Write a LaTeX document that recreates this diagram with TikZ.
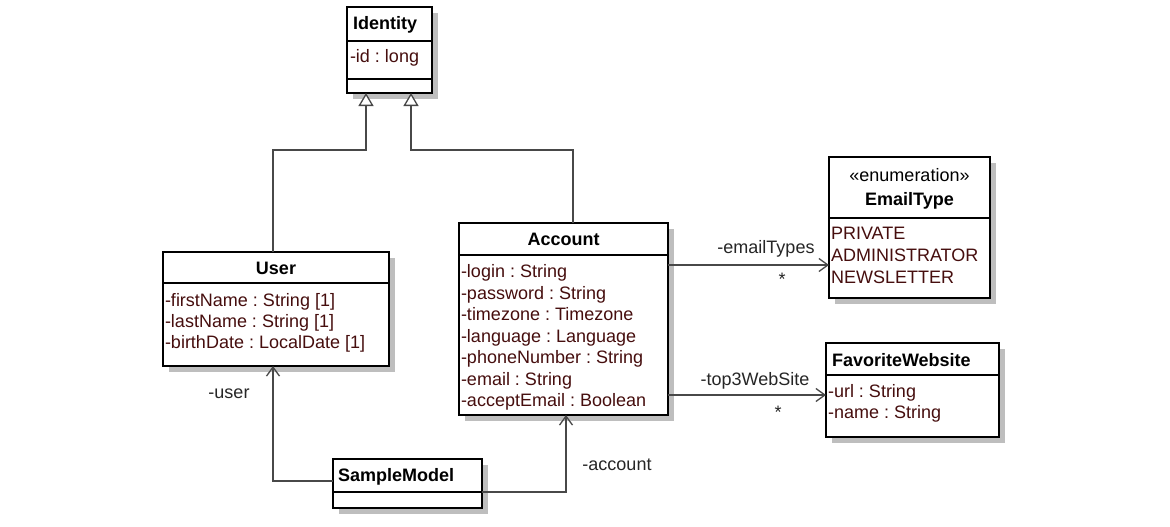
\documentclass[tikz,border=0pt]{standalone}
\usepackage{fontspec}
\setmainfont{Liberation Sans}
\frenchspacing
\usetikzlibrary{arrows.meta,shadows}
\definecolor{attr}{RGB}{70,14,14}
\definecolor{conn}{RGB}{72,72,72}
\definecolor{shade}{RGB}{190,190,190}
\tikzset{
  cls/.style={draw=black, line width=1.5pt, fill=white, inner sep=0pt, outer sep=0pt,
    anchor=north west,
    drop shadow={shadow xshift=6pt, shadow yshift=-6pt, fill=shade, opacity=1, draw=none}},
  sepline/.style={draw=black, line width=1.5pt},
  txt/.style={inner sep=0pt, outer sep=0pt, font=\fontsize{18}{21.5}\selectfont},
  hdr/.style={txt, font=\fontsize{18}{21.5}\selectfont\bfseries, anchor=base},
  hdrl/.style={hdr, anchor=base west},
  att/.style={txt, text=attr, anchor=base west},
  lbl/.style={txt, text=black!85, anchor=base},
  assoc/.style={draw=conn, line width=1.3pt, -{Straight Barb[length=9pt,width=13pt,line width=1.3pt]}},
  gen/.style={draw=conn, line width=1.3pt, -{Triangle[length=13pt,width=15pt,fill=white,line width=1.3pt]}},
}
\begin{document}
\begin{tikzpicture}[x=1pt,y=-1pt]
\useasboundingbox[fill=white] (0,0) rectangle (1170,527);

% Identity
\node[cls, minimum width=85pt, minimum height=86pt] (id) at (347,7) {};
\draw[sepline] (347,41) -- (432,41);
\draw[sepline] (347,79) -- (432,79);
\node[hdrl] (idh) at (353,30) {Identity};
\node[att] (ida) at (350,63) {-id : long};

% EmailType
\node[cls, minimum width=161pt, minimum height=141pt] (et) at (829,157) {};
\draw[sepline] (829,218) -- (990,218);
\node[txt, anchor=base] (ets) at (909.5,181) {«enumeration»};
\node[hdr] (eth) at (909.5,205) {EmailType};
\node[att] (et1) at (831,239) {PRIVATE};
\node[att] (et2) at (831,261) {ADMINISTRATOR};
\node[att] (et3) at (831,283) {NEWSLETTER};

% Account
\node[cls, minimum width=209pt, minimum height=192pt] (acc) at (459,223) {};
\draw[sepline] (459,255) -- (668,255);
\node[hdr] (acch) at (563.5,245) {Account};
\node[att] (a1) at (461,277.5) {-login : String};
\node[att] (a2) at (461,299) {-password : String};
\node[att] (a3) at (461,320.5) {-timezone : Timezone};
\node[att] (a4) at (461,342) {-language : Language};
\node[att] (a5) at (461,363.5) {-phoneNumber : String};
\node[att] (a6) at (461,385) {-email : String};
\node[att] (a7) at (461,406.5) {-acceptEmail : Boolean};

% User
\node[cls, minimum width=226pt, minimum height=114pt] (user) at (163,252) {};
\draw[sepline] (163,283) -- (389,283);
\node[hdr] (userh) at (276,274) {User};
\node[att] (u1) at (165,306) {-firstName : String [1]};
\node[att] (u2) at (165,327) {-lastName : String [1]};
\node[att] (u3) at (165,348) {-birthDate : LocalDate [1]};

% FavoriteWebsite
\node[cls, minimum width=173pt, minimum height=94pt] (fw) at (826,343) {};
\draw[sepline] (826,375) -- (999,375);
\node[hdrl] (fwh) at (832,366) {FavoriteWebsite};
\node[att] (f1) at (828,397) {-url : String};
\node[att] (f2) at (828,418.5) {-name : String};

% SampleModel
\node[cls, minimum width=149pt, minimum height=49pt] (sm) at (333,459) {};
\draw[sepline] (333,492) -- (482,492);
\node[hdrl] (smh) at (338,481) {SampleModel};

% Generalizations
\draw[gen] (user.north -| 273,0) -- (273,150) -- (366,150) -- (id.south -| 366,0);
\draw[gen] (acc.north -| 573,0) -- (573,150) -- (411,150) -- (id.south -| 411,0);

% Associations
\draw[assoc] (acc.east |- 0,265) -- (et.west |- 0,265);
\node[lbl] (l1) at (766,253) {-emailTypes};
\node[lbl] (l1m) at (782,285) {*};
\draw[assoc] (acc.east |- 0,395) -- (fw.west |- 0,395);
\node[lbl] (l2) at (755,385) {-top3WebSite};
\node[lbl] (l2m) at (778,418) {*};
\draw[assoc] (sm.west |- 0,481) -- (273,481) -- (user.south -| 273,0);
\node[lbl] (l3) at (229,398) {-user};
\draw[assoc] (sm.east |- 0,492) -- (566,492) -- (acc.south -| 566,0);
\node[lbl] (l4) at (617,470) {-account};
\end{tikzpicture}
\end{document}
